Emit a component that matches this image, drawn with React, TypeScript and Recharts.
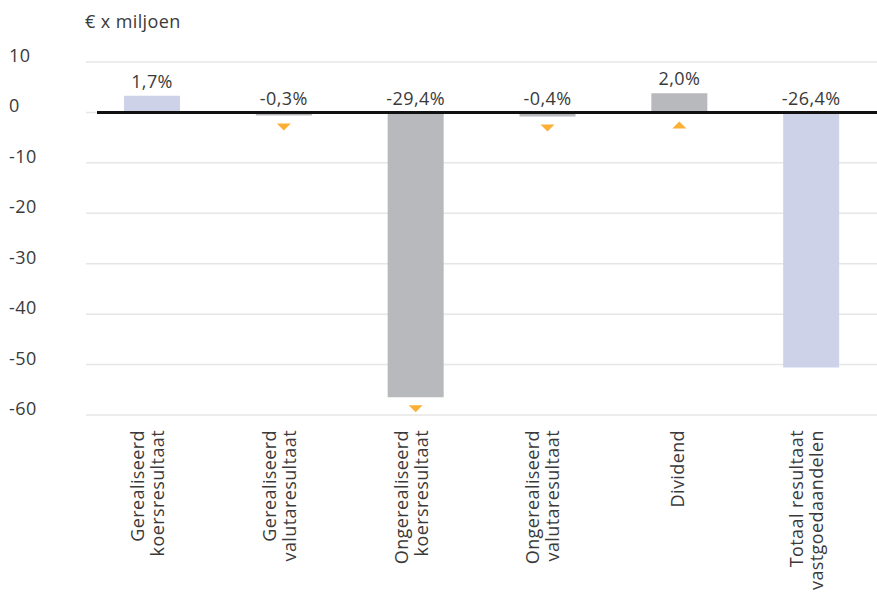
import React from 'react';
import { BarChart, Bar, XAxis, YAxis, CartesianGrid, ReferenceLine, LabelList, Cell } from 'recharts';

// Resultaat vastgoedaandelen, € x miljoen
const categories = [
  ['Gerealiseerd', 'koersresultaat'],
  ['Gerealiseerd', 'valutaresultaat'],
  ['Ongerealiseerd', 'koersresultaat'],
  ['Ongerealiseerd', 'valutaresultaat'],
  ['Dividend'],
  ['Totaal resultaat', 'vastgoedaandelen'],
];
const values = [3.3, -0.6, -56.5, -0.8, 3.8, -50.6];
const percentLabels = ['1,7%', '-0,3%', '-29,4%', '-0,4%', '2,0%', '-26,4%'];
const trend: (string | null)[] = [null, 'down', 'down', 'down', 'up', null];
const yTicks = [10, 0, -10, -20, -30, -40, -50, -60];

const LAVENDER = '#cdd2e8';
const GREY = '#b8b9bd';
const ORANGE = '#fbb034';
const TEXT = '#3a3a3a';
const FONT = '"Open Sans", Lato, sans-serif';
const SIZE = 18;
const SPACING = 0.4;

const data = categories.map((c, i) => ({
  key: c.join(' '),
  value: values[i],
  pct: percentLabels[i],
  trend: trend[i],
  total: i === 0 || i === categories.length - 1,
}));

const YTick = (props: any) => {
  const { y, payload } = props;
  return (
    <text x={9} y={y} textAnchor="start" fontSize={SIZE} fill={TEXT} fontFamily={FONT} letterSpacing={SPACING}>
      {payload.value}
    </text>
  );
};

const XTick = (props: any) => {
  const { x, y, index } = props;
  const lines = categories[index] || [];
  const offsets = lines.length === 1 ? [5] : [-8, 12];
  return (
    <g transform={`translate(${x},${y + 7})`}>
      <text transform="rotate(-90)" textAnchor="end" fontSize={SIZE} fill={TEXT} fontFamily={FONT} letterSpacing={SPACING}>
        {lines.map((l, i) => (
          <tspan key={i} x={0} y={offsets[i]}>{l}</tspan>
        ))}
      </text>
    </g>
  );
};

// percentage above the bar (or above the zero line) plus the small trend arrow below
const BarAnnotation = (props: any) => {
  const { x, y, width, height, index } = props;
  const d = data[index];
  const top = Math.min(y, y + height);
  const bottom = Math.max(y, y + height);
  const zeroY = d.value >= 0 ? bottom : top;
  const cx = x + width / 2;
  const labelY = d.value >= 0 ? top - 8 : zeroY - 7;
  let marker = null;
  if (d.trend === 'down') {
    const t = bottom + 8;
    marker = <polygon points={`${cx - 7},${t} ${cx + 7},${t} ${cx},${t + 7}`} fill={ORANGE} />;
  } else if (d.trend === 'up') {
    const t = zeroY + 9;
    marker = <polygon points={`${cx - 7},${t + 7} ${cx + 7},${t + 7} ${cx},${t}`} fill={ORANGE} />;
  }
  return (
    <g>
      <text x={cx} y={labelY} textAnchor="middle" fontSize={SIZE} fill={TEXT} fontFamily={FONT} letterSpacing={SPACING}>
        {d.pct}
      </text>
      {marker}
    </g>
  );
};

const ZeroLine = (props: any) => {
  const { x2, y1 } = props;
  return <line x1={97} x2={x2} y1={y1} y2={y1} stroke="#111" strokeWidth={3} />;
};

export default function App() {
  return (
    <div style={{ position: 'absolute', left: 0, top: 0, width: 877, height: 592, background: '#fff', fontFamily: FONT }}>
      <div style={{ position: 'absolute', left: 85, top: 9, fontSize: SIZE, color: TEXT, letterSpacing: SPACING }}>
        € x miljoen
      </div>
      <BarChart
        width={877}
        height={592}
        data={data}
        margin={{ top: 62, right: 0, bottom: 0, left: 0 }}
        barSize={56}
      >
        <CartesianGrid vertical={false} stroke="#e6e6e6" strokeWidth={1.5} />
        <XAxis
          dataKey="key"
          axisLine={false}
          tickLine={false}
          interval={0}
          height={177}
          tick={<XTick />}
        />
        <YAxis
          domain={[-60, 10]}
          ticks={yTicks}
          width={86}
          axisLine={false}
          tickLine={false}
          tick={<YTick />}
          interval={0}
        />
        <Bar dataKey="value" isAnimationActive={false}>
          {data.map((d, i) => (
            <Cell key={i} fill={d.total ? LAVENDER : GREY} />
          ))}
          <LabelList dataKey="value" content={<BarAnnotation />} />
        </Bar>
        <ReferenceLine y={0} shape={<ZeroLine />} />
      </BarChart>
    </div>
  );
}
